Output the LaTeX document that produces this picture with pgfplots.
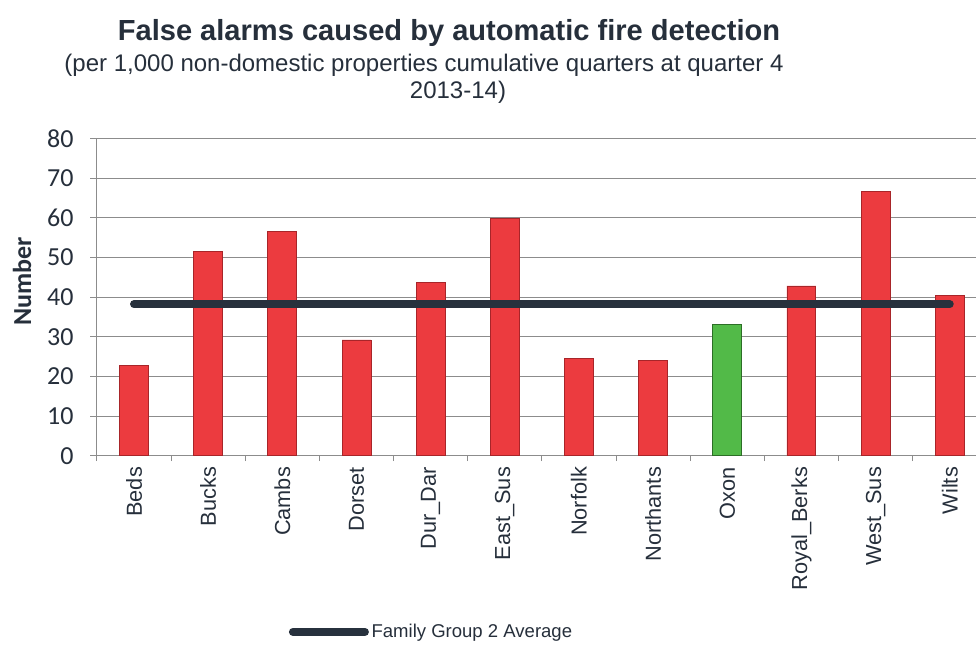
\documentclass[border=0pt]{standalone}
\usepackage{pgfplots}
\pgfplotsset{compat=1.18}
\usepackage{fontspec}
\setmainfont{Liberation Sans}
\newfontfamily\calib{Carlito}
\definecolor{txt}{HTML}{262F3B}
\definecolor{barred}{HTML}{EC3B3F}
\definecolor{barreddk}{HTML}{A82529}
\definecolor{bargreen}{HTML}{52BA48}
\definecolor{bargreendk}{HTML}{2C6E26}
\definecolor{avgline}{HTML}{27313D}
\definecolor{gridc}{HTML}{8C8C8C}
\begin{document}
\begin{tikzpicture}
\useasboundingbox (0,0) rectangle (732pt,484.5pt);
\node[font=\bfseries\fontsize{21.8}{26}\selectfont, text=txt] at (336.75pt,459.5pt) {False alarms caused by automatic fire detection};
\node[font=\fontsize{18}{21}\selectfont, text=txt] at (318pt,435.5pt) {(per 1,000 non-domestic properties cumulative quarters at quarter 4};
\node[font=\fontsize{18}{21}\selectfont, text=txt] at (343.5pt,415pt) {2013-14)};
\begin{axis}[
  scale only axis,
  width=659.3pt, height=238pt,
  at={(72.7pt,142.7pt)}, anchor=south west,
  xmin=-0.5, xmax=11.354,
  ymin=0, ymax=80,
  ytick={0,10,...,80},
  xtick={0,...,11},
  xticklabels={Beds,Bucks,Cambs,Dorset,Dur\_Dar,East\_Sus,Norfolk,Northants,Oxon,Royal\_Berks,West\_Sus,Wilts},
  minor xtick={-0.5,0.5,...,11.5},
  major x tick style={draw=none},
  minor x tick style={draw=gridc, line width=0.75pt},
  y tick style={draw=gridc, line width=0.75pt},
  tick align=outside,
  major tick length=5pt,
  minor tick length=4pt,
  axis x line*=bottom,
  axis y line*=left,
  axis line style={draw=gridc, line width=0.75pt},
  ymajorgrids,
  grid style={draw=gridc, line width=0.75pt},
  /pgf/number format/assume math mode=true,
  xticklabel style={font=\fontsize{16.3}{19}\selectfont, text=txt, rotate=90, anchor=east},
  yticklabel style={font=\calib\fontsize{19.5}{22}\selectfont, text=txt, xshift=-9pt},
  ylabel={Number},
  ylabel style={font=\calib\bfseries\fontsize{19.5}{22}\selectfont, text=txt, at={(axis description cs:-0.085,0.55)}, anchor=center},
  legend style={at={(axis description cs:0.381,-0.555)}, anchor=center, draw=none, font=\fontsize{13.9}{16}\selectfont, text=txt, legend cell align=left},
  legend image code/.code={\draw[#1, line cap=round] (0pt,0pt) -- (54pt,0pt);},
]
\addplot[ybar, bar width=0.39, bar shift=0pt, fill=barred, draw=barreddk, line width=0.6pt, forget plot] coordinates {
(0,22.8) (1,51.4) (2,56.5) (3,29.2) (4,43.6) (5,59.8) (6,24.6) (7,24.1) (9,42.8) (10,66.6) (11,40.3)};
\addplot[ybar, bar width=0.39, bar shift=0pt, fill=bargreen, draw=bargreendk, line width=0.6pt, forget plot] coordinates {(8,33.1)};
\addplot[avgline, line width=6pt, line cap=round] coordinates {(0,38.2) (11,38.2)};
\addlegendentry{Family Group 2 Average}
\end{axis}
\end{tikzpicture}
\end{document}
